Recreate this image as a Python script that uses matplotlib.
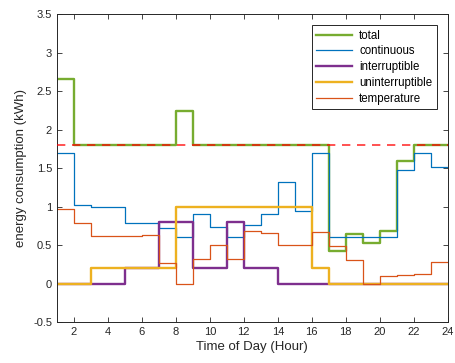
import matplotlib.pyplot as plt
import numpy as np

plt.rcParams['font.family'] = ['Liberation Sans', 'DejaVu Sans']

hours = np.arange(1, 25)

# hourly values (last entry repeats the 23-24 value)
total = [2.66, 1.8, 1.8, 1.8, 1.8, 1.8, 1.8, 2.24, 1.8, 1.8, 1.8, 1.8,
         1.8, 1.8, 1.8, 1.8, 0.42, 0.64, 0.52, 0.68, 1.59, 1.8, 1.8, 1.8]
continuous = [1.70, 1.02, 0.99, 0.99, 0.78, 0.78, 0.72, 0.60, 0.90, 0.73, 0.60, 0.755,
              0.90, 1.32, 0.94, 1.70, 0.60, 0.60, 0.60, 0.60, 1.48, 1.69, 1.52, 1.52]
interruptible = [0, 0, 0, 0, 0.2, 0.2, 0.8, 0.8, 0.2, 0.2, 0.8, 0.2,
                 0.2, 0, 0, 0, 0, 0, 0, 0, 0, 0, 0, 0]
uninterruptible = [0, 0, 0.2, 0.2, 0.2, 0.2, 0.2, 1.0, 1.0, 1.0, 1.0, 1.0,
                   1.0, 1.0, 1.0, 0.2, 0, 0, 0, 0, 0, 0, 0, 0]
temperature = [0.965, 0.79, 0.62, 0.62, 0.62, 0.63, 0.27, 0.0, 0.315, 0.505, 0.32, 0.68,
               0.66, 0.50, 0.50, 0.67, 0.49, 0.31, 0.0, 0.10, 0.115, 0.12, 0.285, 0.285]
limit = 1.8

fig = plt.figure(figsize=(4.55, 3.63), dpi=100)
ax = fig.add_axes([0.125, 0.113, 0.859, 0.848])

ax.step(hours, total, where='post', color='#77AC30', lw=1.7, label='total')
ax.step(hours, continuous, where='post', color='#0072BD', lw=0.9, label='continuous')
ax.step(hours, interruptible, where='post', color='#7E2F8E', lw=1.7, label='interruptible')
ax.step(hours, uninterruptible, where='post', color='#EDB120', lw=1.7, label='uninterruptible')
ax.step(hours, temperature, where='post', color='#D95319', lw=0.9, label='temperature')
ax.plot([1, 24], [limit, limit], color='#FF0000', lw=1.2, ls=(0, (5, 4)), alpha=0.8, zorder=5)

ax.set_xlim(1, 24)
ax.set_ylim(-0.5, 3.5)
ax.set_xticks(np.arange(2, 25, 2))
ax.set_yticks(np.arange(-0.5, 3.51, 0.5))
ax.set_yticklabels(['-0.5', '0', '0.5', '1', '1.5', '2', '2.5', '3', '3.5'])
ax.tick_params(direction='in', top=True, right=True, length=3.5, width=0.6,
               labelsize=8, colors='#262626')
for s in ax.spines.values():
    s.set_color('#262626')
    s.set_linewidth(0.7)

ax.set_xlabel('Time of Day (Hour)', fontsize=9.5, color='#262626', labelpad=3)
ax.set_ylabel('energy consumption (kWh)', fontsize=9.5, color='#262626', labelpad=4)

leg = ax.legend(loc='upper right', fontsize=8.3, fancybox=False, framealpha=1,
                edgecolor='#262626', handlelength=3.1, borderpad=0.4,
                labelspacing=0.33, handletextpad=0.6, borderaxespad=0,
                bbox_to_anchor=(0.972, 0.965))
leg.get_frame().set_linewidth(0.7)

plt.savefig('out.png', dpi=100)
